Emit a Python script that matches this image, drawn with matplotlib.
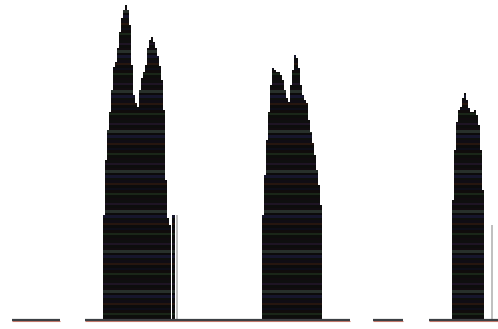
import numpy as np
import matplotlib
matplotlib.use('Agg')
import matplotlib.pyplot as plt

# bin heights of the three peaks (left edge of each peak, then one value per 2-wide bin)
peak1_start = 103
peak1 = [105, 160, 190, 208, 230, 253, 258, 272, 288, 302, 310, 315, 310,
         295, 255, 225, 217, 213, 230, 242, 248, 255, 272, 280, 283, 278,
         272, 264, 254, 240, 210, 140, 102, 95]
peak2_start = 262
peak2 = [105, 145, 180, 208, 235, 252, 250, 248, 248, 245, 240, 230, 222,
         218, 235, 250, 265, 262, 252, 235, 225, 220, 217, 200, 188, 177,
         165, 150, 135, 115]
peak3_start = 452
peak3 = [120, 170, 198, 210, 213, 222, 227, 220, 212, 208, 208, 210, 205,
         195, 170, 130]

# lone spike after the first peak
spike_x = 172
spike_h = 105

# grey markers
marker_x = [177, 492]
marker_h = [105, 95]

# baseline pieces
base_start = [12, 85, 373, 429]
base_end = [60, 350, 403, 498]

bin_w = 2
layer = 2.5
palette = ['#110c10', '#0d0e0c', '#1a2618', '#100c0c', '#0e0e18', '#0c0c0c',
           '#26160f', '#100d14', '#0e100e', '#16162c', '#0c0b0b', '#27302b',
           '#120c10', '#0d0d0d', '#1e1424', '#0f0f0f']

fig = plt.figure(figsize=(4.98, 3.29), dpi=100)
ax = fig.add_axes([0, 0, 1, 1])

xs = []
hs = []
for start, vals in [(peak1_start, peak1), (peak2_start, peak2), (peak3_start, peak3)]:
    for i, v in enumerate(vals):
        xs.append(start + bin_w * i)
        hs.append(v)
xs.append(spike_x)
hs.append(spike_h)
xs = np.array(xs, dtype=float)
hs = np.array(hs, dtype=float)
ws = np.full(len(xs), float(bin_w))
ws[len(peak1) - 1] = 1.5  # leave a hairline gap before the spike
ws[-1] = 2.5

# stack thin layers so each column shows faint coloured bands
nlayers = int(np.ceil(hs.max() / layer))
for k in range(nlayers):
    bottom = k * layer
    seg = np.clip(hs - bottom, 0, layer)
    keep = seg > 0
    ax.bar(xs[keep], seg[keep], bottom=bottom, width=ws[keep], align='edge',
           color=palette[k % len(palette)], linewidth=0, antialiased=False)

ax.vlines(marker_x, 0, marker_h, color='#b4b4b4', lw=1.2)
ax.hlines([-1.2] * len(base_start), base_start, base_end, color='#d08070', lw=0.8)
ax.hlines([0] * len(base_start), base_start, base_end, color='#3c4044', lw=1.6)

ax.set_xlim(0, 498)
ax.set_ylim(-9, 320)
ax.axis('off')

fig.savefig('out.png', dpi=100, facecolor='white')
